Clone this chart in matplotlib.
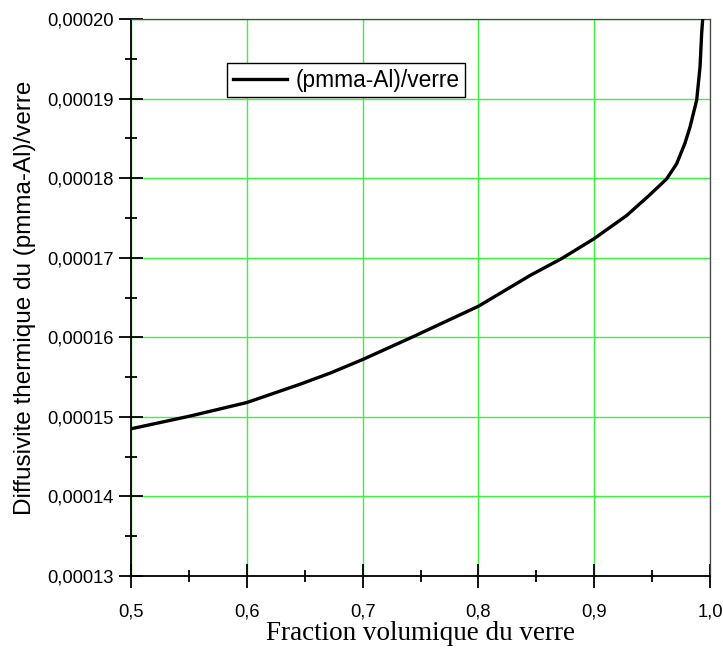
import matplotlib
matplotlib.use("Agg")
import matplotlib.pyplot as plt
from matplotlib.ticker import MultipleLocator, FuncFormatter

# Data
frac = [0.500, 0.551, 0.600, 0.646, 0.672, 0.700, 0.744, 0.800, 0.845,
        0.872, 0.900, 0.928, 0.948, 0.9625, 0.9712, 0.9784, 0.9827,
        0.9856, 0.9885, 0.9914, 0.9928, 0.9937]
diff = [0.0001485, 0.0001501, 0.0001518, 0.0001541, 0.0001555, 0.0001572,
        0.0001601, 0.0001639, 0.0001678, 0.0001699, 0.0001724, 0.0001753,
        0.0001779, 0.0001799, 0.0001818, 0.0001844, 0.0001864, 0.0001881,
        0.0001898, 0.0001940, 0.0001982, 0.0002000]
label = "(pmma-Al)/verre"
xticks = [0.5, 0.6, 0.7, 0.8, 0.9, 1.0]
yticks = [0.00013, 0.00014, 0.00015, 0.00016, 0.00017, 0.00018, 0.00019, 0.00020]

fig = plt.figure(figsize=(7.23, 6.63), dpi=100)
ax = fig.add_axes([131/723, 1-576/663, (710-131)/723, (576-19)/663])

ax.plot(frac, diff, color="black", lw=2.4, label=label, zorder=3,
        solid_joinstyle="round")

ax.set_xlim(0.5, 1.0)
ax.set_ylim(0.00013, 0.00020)
ax.set_xticks(xticks)
ax.set_yticks(yticks)
ax.xaxis.set_minor_locator(MultipleLocator(0.05))
ax.yaxis.set_minor_locator(MultipleLocator(0.000005))
ax.xaxis.set_major_formatter(FuncFormatter(lambda v, p: f"{v:.1f}".replace(".", ",")))
ax.yaxis.set_major_formatter(FuncFormatter(lambda v, p: f"{v:.5f}".replace(".", ",")))

ax.grid(True, which="major", color="#3cf23c", lw=1.0, zorder=1)
ax.set_axisbelow(True)

for s in ["left", "bottom"]:
    ax.spines[s].set_linewidth(1.3)
    ax.spines[s].set_color("black")
for s in ["top", "right"]:
    ax.spines[s].set_linewidth(0.9)
    ax.spines[s].set_color("#444444")

ax.tick_params(which="major", direction="inout", length=17, width=1.3,
               top=False, right=False, labelsize=13.2)
ax.tick_params(which="minor", direction="inout", length=8, width=1.3,
               top=False, right=False)
ax.tick_params(axis="y", which="major", pad=4)
ax.tick_params(axis="x", which="major", pad=11)
for lab in ax.get_xticklabels() + ax.get_yticklabels():
    lab.set_fontfamily("Liberation Sans")

ax.set_xlabel("Fraction volumique du verre", family="Liberation Serif",
              fontsize=19.5, labelpad=1)
ax.set_ylabel("Diffusivite thermique du (pmma-Al)/verre", family="Liberation Sans",
              fontsize=17.5, labelpad=8)

leg = ax.legend(loc="upper left", bbox_to_anchor=((227-131)/579, (576-63)/557),
                borderaxespad=0, fancybox=False, edgecolor="black", framealpha=1,
                prop=dict(family="Liberation Sans", size=16.4), handlelength=2.4,
                handletextpad=0.35, borderpad=0.25, labelspacing=0)
leg.get_frame().set_linewidth(1.0)

fig.savefig("out.png", dpi=100)
